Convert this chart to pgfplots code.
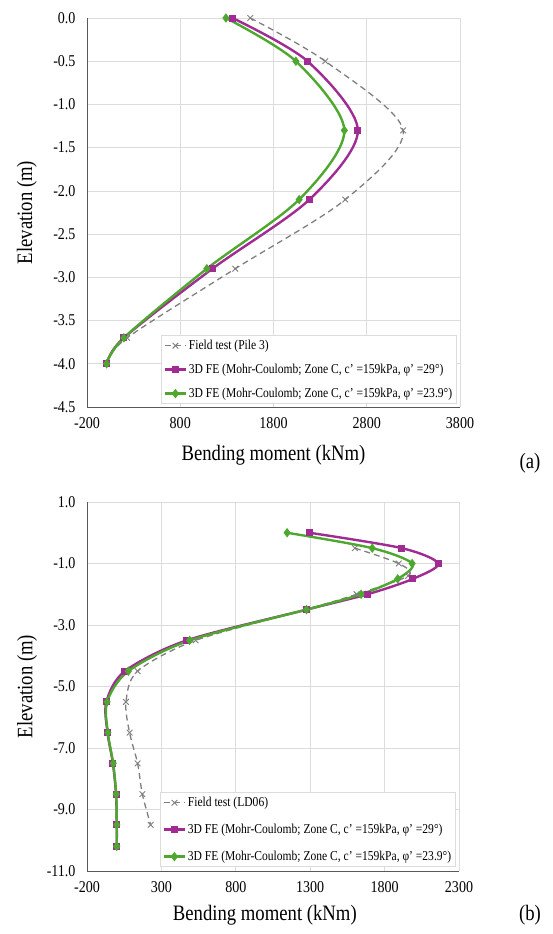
\documentclass[border=0pt]{standalone}
\usepackage{fontspec}
\setmainfont[FakeStretch=0.85]{Liberation Serif}
\usepackage{pgfplots}
\pgfplotsset{compat=1.18}
\definecolor{fieldgray}{HTML}{7F7F7F}
\definecolor{mag}{HTML}{A02B93}
\definecolor{grn}{HTML}{4EA72E}
\definecolor{gridc}{HTML}{DCDCDC}
\definecolor{axc}{HTML}{595959}
\pgfplotsset{
  myaxis/.style={
    scale only axis,
    axis x line*=bottom, axis y line*=left,
    axis line style={draw=axc, line width=0.9pt},
    major tick length=0pt,
    grid=major,
    major grid style={draw=gridc, line width=0.7pt},
    scaled ticks=false,
    tick label style={font=\fontsize{16.5}{19}\selectfont},
    /pgf/number format/assume math mode=true,
    /pgf/number format/1000 sep={},
    yticklabel={\pgfmathprintnumber[fixed,precision=1,fixed zerofill,assume math mode=true]{\tick}},
    yticklabel style={xshift=-8pt},
    xticklabel style={yshift=-7pt},
    label style={font=\fontsize{22}{26}\selectfont},
    ylabel style={at={(axis description cs:-0.161,0.5)}, anchor=center},
    legend cell align=left,
    legend style={draw=gridc, fill=white, line width=0.7pt,
      font=\fontsize{13.6}{16}\selectfont, inner sep=2.5pt,
      anchor=south east, cells={anchor=west}},
    legend image code/.code={\draw[mark repeat=2,mark phase=2] plot coordinates {(0cm,0cm)(0.36cm,0cm)(0.72cm,0cm)};},
  },
  fieldst/.style={fieldgray, line width=1.3pt, dash pattern=on 6pt off 4pt, smooth, mark=x, mark size=4pt, mark options={solid, line width=0.9pt, draw=fieldgray}},
  magst/.style={mag, line width=2.4pt, smooth, mark=square*, mark size=2.3pt, mark options={solid, fill=mag}},
  grnst/.style={grn, line width=2.4pt, smooth, mark=diamond*, mark size=2.8pt, mark options={solid, fill=grn}},
}
\begin{document}
\begin{tikzpicture}
\useasboundingbox (0pt,0pt) rectangle (552pt,-934pt);
% Panel (a)
\begin{axis}[myaxis,
  at={(87pt,-407pt)}, anchor=south west,
  width=373pt, height=389pt,
  xmin=-200, xmax=3800, xtick={-200,800,1800,2800,3800},
  ymin=-4.5, ymax=0, ytick={-4.5,-4,-3.5,-3,-2.5,-2,-1.5,-1,-0.5,0},
  xlabel={Bending moment (kNm)}, ylabel={Elevation (m)},
  xlabel style={at={(axis description cs:0.5,-0.123)}, anchor=center},
  legend style={at={(0.992,0.008)}, row sep=9pt},
]
\addplot[fieldst] coordinates {(1550,0) (2355,-0.5) (3190,-1.3) (2570,-2.1) (1390,-2.9) (230,-3.7) (10,-4.0)};
\addlegendentry{Field test (Pile 3)}
\addplot[magst] coordinates {(1360,0) (2165,-0.5) (2705,-1.3) (2185,-2.1) (1145,-2.9) (195,-3.7) (10,-4.0)};
\addlegendentry{3D FE (Mohr-Coulomb; Zone C, c' =159kPa, φ' =29°)}
\addplot[grnst] coordinates {(1290,0) (2040,-0.5) (2560,-1.3) (2075,-2.1) (1085,-2.9) (195,-3.7) (10,-4.0)};
\addlegendentry{3D FE (Mohr-Coulomb; Zone C, c' =159kPa, φ' =23.9°)}
\end{axis}
\node[font=\fontsize{22}{26}\selectfont] at (530pt,-463pt) {(a)};
% Panel (b)
\begin{axis}[myaxis,
  at={(87pt,-871pt)}, anchor=south west,
  width=372pt, height=369pt,
  xmin=-200, xmax=2300, xtick={-200,300,800,1300,1800,2300},
  ymin=-11, ymax=1, ytick={-11,-9,-7,-5,-3,-1,1},
  xlabel={Bending moment (kNm)}, ylabel={Elevation (m)},
  xlabel style={at={(axis description cs:0.478,-0.119)}, anchor=center},
  legend style={at={(0.992,0.011)}, row sep=12pt},
]
\addplot[fieldst] coordinates {(1600,-0.5) (1895,-1.0) (1958,-1.4) (1612,-2.0) (1270,-2.5) (530,-3.5) (140,-4.5) (62,-5.5) (86,-6.5) (140,-7.5) (172,-8.5) (228,-9.5)};
\addlegendentry{Field test (LD06)}
\addplot[magst] coordinates {(1295,0) (1915,-0.5) (2160,-1.0) (1990,-1.5) (1685,-2.0) (1275,-2.5) (470,-3.5) (55,-4.5) (-70,-5.5) (-62,-6.5) (-26,-7.5) (-5,-8.5) (0,-9.5) (0,-10.2)};
\addlegendentry{3D FE (Mohr-Coulomb; Zone C, c' =159kPa, φ' =29°)}
\addplot[grnst] coordinates {(1145,0) (1717,-0.5) (1985,-1.0) (1888,-1.5) (1642,-2.0) (1275,-2.5) (490,-3.5) (78,-4.5) (-65,-5.5) (-60,-6.5) (-24,-7.5) (-4,-8.5) (0,-9.5) (0,-10.2)};
\addlegendentry{3D FE (Mohr-Coulomb; Zone C, c' =159kPa, φ' =23.9°)}
\end{axis}
\node[font=\fontsize{22}{26}\selectfont] at (530pt,-915pt) {(b)};
\end{tikzpicture}
\end{document}
